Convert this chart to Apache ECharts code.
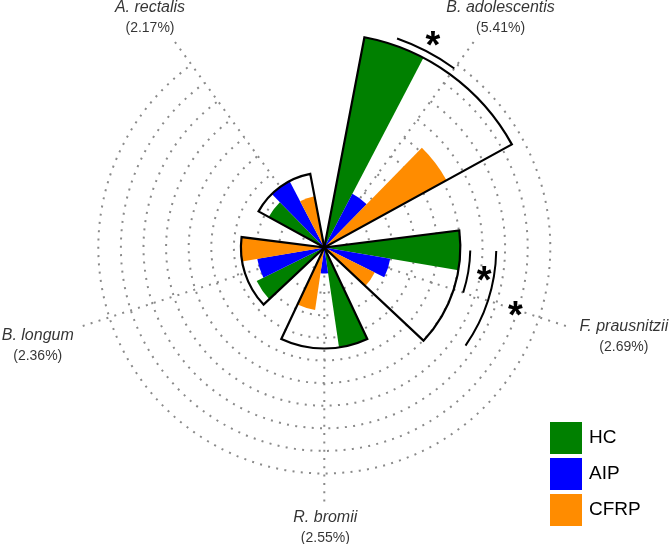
<!DOCTYPE html>
<html>
<head>
<meta charset="utf-8">
<script src="https://cdn.jsdelivr.net/npm/echarts@6/dist/echarts.min.js"></script>
<style>
  html, body { margin: 0; padding: 0; background: #fff; }
  #chart { width: 669px; height: 544px; }
</style>
</head>
<body>
<div id="chart"></div>
<script>
// species, clockwise from upper right, with their relative abundance
const species = ['B. adolescentis', 'F. prausnitzii', 'R. bromii', 'B. longum', 'A. rectalis'];
const abundance = ['(5.41%)', '(2.69%)', '(2.55%)', '(2.36%)', '(2.17%)'];
const groups = ['HC', 'AIP', 'CFRP'];
const hcValues = [9.47, 6.02, 4.47, 3.34, 2.81];
const aipValues = [2.68, 2.96, 1.15, 3.01, 3.32];
const cfrpValues = [6.17, 2.49, 2.79, 3.69, 2.31];
// significance brackets: [species index, group a, group b, bracket radius, star radius]
const sigBrackets = [
  [0, 0, 1, 9.79, 10.37],
  [1, 0, 1, 6.46, 7.17],
  [1, 0, 2, 7.61, 8.89]
];

// layout
const CX = 324.3, CY = 247.5;
const R = 226, SPOKE_R = 254, R_MAX = 10;
const START = 54, BAND = 72, BAR_SHARE = 0.7;
const FONT = '"Liberation Sans", Arial, sans-serif';
const colors = ['#008000', '#0000ff', '#ff8c00'];
const labelOffsets = [[27, -24], [58, 11], [1, 26.5], [-45, 20], [-25, -24]];
const dotted = { color: '#8a8a8a', width: 2, type: [2, 6.3], cap: 'butt' };

const outlineValues = species.map((_, i) => Math.max(hcValues[i], aipValues[i], cfrpValues[i]));

const chart = echarts.init(document.getElementById('chart'));

const angleAxisBase = (idx, showSplit) => ({
  polarIndex: idx,
  type: 'category',
  data: species,
  startAngle: START,
  clockwise: true,
  boundaryGap: false,
  axisLine: { show: false },
  axisTick: { show: false },
  axisLabel: { show: false },
  splitLine: { show: showSplit, lineStyle: dotted }
});

const barSeries = (name, data, color) => ({
  name: name,
  type: 'bar',
  coordinateSystem: 'polar',
  polarIndex: 0,
  data: data,
  barGap: '0%',
  barCategoryGap: '30%',
  itemStyle: { color: color },
  emphasis: { disabled: true },
  z: 3
});

const option = {
  backgroundColor: '#fff',
  animation: false,
  polar: [
    { center: [CX, CY], radius: R },
    { center: [CX, CY], radius: R },
    { center: [CX, CY], radius: SPOKE_R }
  ],
  angleAxis: [angleAxisBase(0, false), angleAxisBase(1, false), angleAxisBase(2, true)],
  radiusAxis: [
    {
      polarIndex: 0, type: 'value', min: 0, max: R_MAX, interval: 1,
      axisLine: { show: false }, axisTick: { show: false }, axisLabel: { show: false },
      splitLine: { show: true, lineStyle: dotted }
    },
    {
      polarIndex: 1, type: 'value', min: 0, max: R_MAX,
      axisLine: { show: false }, axisTick: { show: false }, axisLabel: { show: false },
      splitLine: { show: false }
    },
    {
      polarIndex: 2, type: 'value', min: 0, max: 1,
      axisLine: { show: false }, axisTick: { show: false }, axisLabel: { show: false },
      splitLine: { show: false }
    }
  ],
  legend: {
    data: groups,
    orient: 'vertical',
    left: 550,
    top: 422,
    padding: 0,
    itemWidth: 32,
    itemHeight: 32,
    itemGap: 4,
    icon: 'rect',
    selectedMode: false,
    textStyle: { fontSize: 19, color: '#000', fontFamily: FONT, padding: [0, 0, 0, 2] }
  },
  series: [
    barSeries('HC', hcValues, colors[0]),
    barSeries('AIP', aipValues, colors[1]),
    barSeries('CFRP', cfrpValues, colors[2]),
    {
      name: 'outline',
      type: 'bar',
      coordinateSystem: 'polar',
      polarIndex: 1,
      data: outlineValues,
      barCategoryGap: '30%',
      itemStyle: { color: 'rgba(0,0,0,0)', borderColor: '#000', borderWidth: 2.2 },
      emphasis: { disabled: true },
      silent: true,
      z: 4
    },
    {
      name: 'labels',
      type: 'scatter',
      coordinateSystem: 'polar',
      polarIndex: 2,
      symbolSize: 0,
      silent: true,
      emphasis: { disabled: true },
      data: species.map((s, i) => ({ value: [1, i], label: { offset: labelOffsets[i] } })),
      label: {
        show: true,
        position: 'inside',
        formatter: p => '{n|' + species[p.dataIndex] + '}\n{p|' + abundance[p.dataIndex] + '}',
        rich: {
          n: { fontSize: 16, fontStyle: 'italic', fontFamily: FONT, color: '#000', lineHeight: 20, align: 'center' },
          p: { fontSize: 14, fontFamily: FONT, color: '#000', lineHeight: 20, align: 'center' }
        }
      },
      z: 5
    },
    {
      name: 'significance',
      type: 'custom',
      coordinateSystem: 'polar',
      polarIndex: 0,
      silent: true,
      data: sigBrackets.map(b => [b[3], b[0]]),
      renderItem: function (params, api) {
        const b = sigBrackets[params.dataIndex];
        const c = api.coord([0, 0]);
        const edge = api.coord([b[3], b[0]]);
        const starPt = api.coord([b[4], b[0]]);
        const r = Math.hypot(edge[0] - c[0], edge[1] - c[1]);
        const rs = Math.hypot(starPt[0] - c[0], starPt[1] - c[1]);
        const mid = Math.atan2(-(edge[1] - c[1]), edge[0] - c[0]) * 180 / Math.PI;
        const barW = BAND * BAR_SHARE / 3;
        const a1 = mid + (1 - b[1]) * barW;
        const a2 = mid + (1 - b[2]) * barW;
        const hi = Math.max(a1, a2), lo = Math.min(a1, a2);
        const am = (hi + lo) / 2 * Math.PI / 180;
        const fs = 38;
        return {
          type: 'group',
          children: [
            {
              type: 'arc',
              shape: { cx: c[0], cy: c[1], r: r, startAngle: -hi * Math.PI / 180, endAngle: -lo * Math.PI / 180, clockwise: true },
              style: { stroke: '#000', lineWidth: 2, fill: null }
            },
            {
              type: 'text',
              x: c[0] + rs * Math.cos(am),
              y: c[1] - rs * Math.sin(am) + fs * 0.2,
              style: { text: '*', fontSize: fs, fontWeight: 'bold', fontFamily: FONT, fill: '#000', align: 'center', verticalAlign: 'middle' }
            }
          ]
        };
      },
      z: 6
    }
  ]
};

chart.setOption(option);
</script>
</body>
</html>
